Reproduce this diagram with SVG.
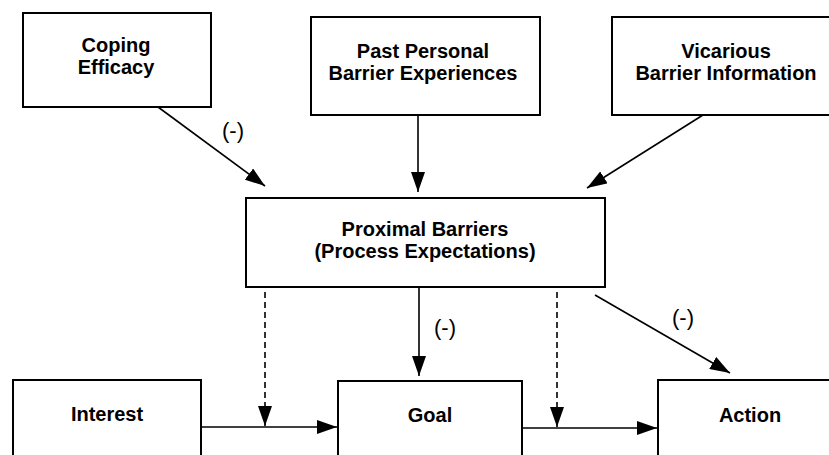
<svg xmlns="http://www.w3.org/2000/svg" width="829" height="455" viewBox="0 0 829 455">
<style>
.box{fill:#fff;stroke:#000;stroke-width:2}
.t{font-family:"Liberation Sans",Arial,sans-serif;font-weight:bold;font-size:20px;text-anchor:middle;fill:#000}
.lbl{font-family:"Liberation Sans",Arial,sans-serif;font-size:22px;text-anchor:middle;fill:#000}
.c{stroke:#000;stroke-width:1.6;fill:none}
.d{stroke:#000;stroke-width:1.6;fill:none;stroke-dasharray:6 4}
</style>
<defs>
<marker id="ah" markerUnits="userSpaceOnUse" markerWidth="20" markerHeight="14" viewBox="0 0 20 14" refX="20" refY="7" orient="auto">
<path d="M0,0 L20,7 L0,14 Z" fill="#000"/>
</marker>
</defs>
<rect width="829" height="455" fill="#fff"/>
<g id="coping"><rect class="box" x="23" y="13" width="188" height="94"/><text class="t" x="116" y="52">Coping</text><text class="t" x="116" y="74">Efficacy</text></g>
<g id="past"><rect class="box" x="311" y="17" width="229" height="98"/><text class="t" x="423" y="58">Past Personal</text><text class="t" x="423" y="80">Barrier Experiences</text></g>
<g id="vicarious"><rect class="box" x="612" y="17" width="225" height="98"/><text class="t" x="726" y="58">Vicarious</text><text class="t" x="726" y="80">Barrier Information</text></g>
<g id="proximal"><rect class="box" x="246" y="198" width="359" height="89"/><text class="t" x="425" y="236">Proximal Barriers</text><text class="t" x="425" y="258">(Process Expectations)</text></g>
<g id="interest"><rect class="box" x="13" y="380" width="188" height="90"/><text class="t" x="107" y="421">Interest</text></g>
<g id="goal"><rect class="box" x="338" y="381" width="184" height="90"/><text class="t" x="430" y="422">Goal</text></g>
<g id="action"><rect class="box" x="658" y="380" width="180" height="90"/><text class="t" x="750" y="422">Action</text></g>
<g id="connectors">
<line class="c" x1="158" y1="107" x2="265" y2="186" marker-end="url(#ah)"/>
<line class="c" x1="418" y1="115" x2="418" y2="192" marker-end="url(#ah)"/>
<line class="c" x1="703" y1="115" x2="587" y2="188" marker-end="url(#ah)"/>
<line class="c" x1="419" y1="288" x2="419" y2="376" marker-end="url(#ah)"/>
<line class="c" x1="595" y1="295" x2="730" y2="373" marker-end="url(#ah)"/>
<line class="d" x1="265" y1="292" x2="265" y2="426" marker-end="url(#ah)"/>
<line class="d" x1="557" y1="292" x2="557" y2="427" marker-end="url(#ah)"/>
<line class="c" x1="201" y1="427" x2="337" y2="427" marker-end="url(#ah)"/>
<line class="c" x1="522" y1="428" x2="657" y2="428" marker-end="url(#ah)"/>
<text class="lbl" x="233" y="138">(-)</text>
<text class="lbl" x="445" y="335">(-)</text>
<text class="lbl" x="683" y="325">(-)</text>
</g>
</svg>
